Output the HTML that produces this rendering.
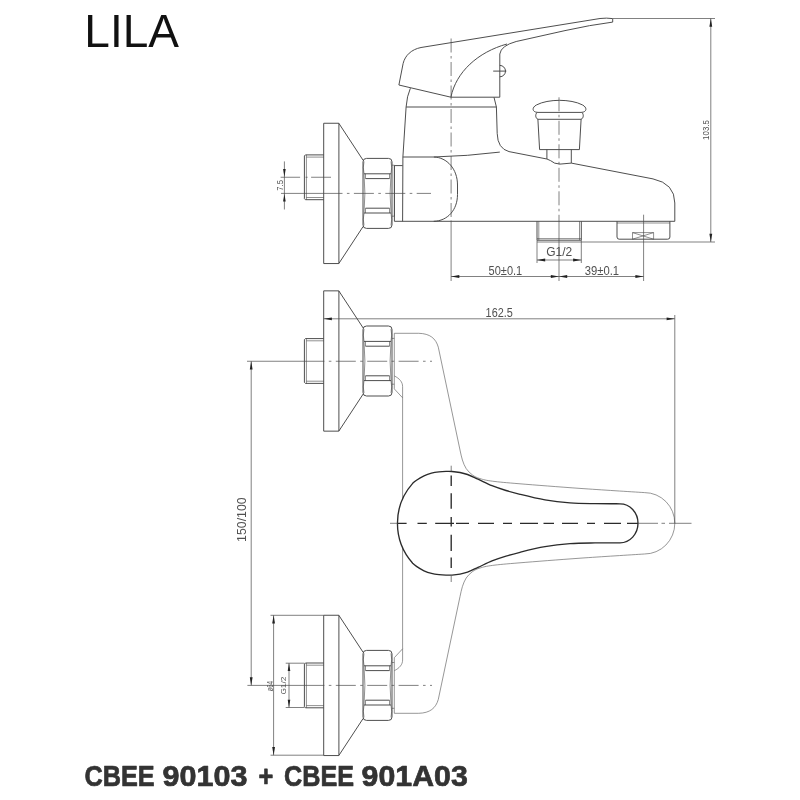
<!DOCTYPE html>
<html lang="en">
<head>
<meta charset="utf-8">
<title>LILA CBEE 90103 + CBEE 901A03</title>
<style>
html,body{margin:0;padding:0;background:#fff;}
body{width:800px;height:800px;overflow:hidden;position:relative;font-family:"Liberation Sans",sans-serif;}
svg{position:absolute;left:0;top:0;display:block;will-change:transform;}
.m{fill:none;stroke:#444;stroke-width:.95;stroke-linejoin:round;stroke-linecap:butt;}
.m .t{stroke-width:.6;}
.n{fill:none;stroke:#666;stroke-width:.68;}
.d{fill:none;stroke:#4a4a4a;stroke-width:.7;}
.h{fill:none;stroke:#2b2b2b;stroke-width:1.35;stroke-linecap:butt;}
.a{fill:#222;stroke:none;}
.x{font-family:"Liberation Sans",sans-serif;fill:#505050;stroke:none;}
.ttl{font-family:"Liberation Sans",sans-serif;fill:#111;}
.code{font-family:"Liberation Sans",sans-serif;font-weight:bold;fill:#333;stroke:#333;stroke-width:.7;stroke-linejoin:round;}
</style>
</head>
<body>
<svg width="800" height="800" viewBox="0 0 800 800">
<rect x="0" y="0" width="800" height="800" fill="#fff"/>

<text class="ttl" x="84.3" y="47.3" font-size="46.6" textLength="94.7" lengthAdjust="spacingAndGlyphs">LILA</text>
<text class="code" font-size="29" y="785.5"><tspan x="84.4" textLength="70.2" lengthAdjust="spacingAndGlyphs">CBEE</tspan> <tspan x="162.4" textLength="85" lengthAdjust="spacingAndGlyphs">90103</tspan> <tspan x="258.4" textLength="14.8" lengthAdjust="spacingAndGlyphs">+</tspan> <tspan x="284" textLength="70" lengthAdjust="spacingAndGlyphs">CBEE</tspan> <tspan x="361.6" textLength="106.2" lengthAdjust="spacingAndGlyphs">901A03</tspan></text>
<g class="m">
<rect x="323.7" y="123.25" width="15.2" height="140.3"/>
<path d="M338.9,123.40 L363.2,160.40 M338.9,263.40 L363.2,226.40"/>
<rect x="363" y="158.40" width="29" height="70" rx="3.5" ry="3.5"/>
<path d="M364,173.80 H391"/>
<path d="M364,213.00 H391"/>
<path d="M365.5,178.60 H389.5"/>
<path d="M365.5,208.20 H389.5"/>
<path class="t" d="M364,161.40 Q362.6,167.40 364,173.80 Q365.8,193.40 364,213.00 Q362.6,219.40 364,225.40"/>
<path class="t" d="M391,161.40 Q392.4,167.40 391,173.80 Q389.2,193.40 391,213.00 Q392.4,219.40 391,225.40"/>
<path class="t" d="M365.5,173.80 V178.60 M389.5,173.80 V178.60 M365.5,208.20 V213.00 M389.5,208.20 V213.00"/>
<path d="M323.7,154.90 H305.4 L304.4,155.90 V198.70 L305.4,199.70 H323.7"/>
<path class="t" d="M306.4,154.90 V199.70 M306.4,157.10 H323.7 M306.4,197.50 H323.7"/>
<path class="t" d="M392,165.2 H394.4 V216.2 H392"/>
<path d="M394.4,165.6 H402.6 M394.4,165.6 V221.3"/>
<path d="M394.4,221.3 H674.8"/>
<path d="M402.6,221.3 L402.9,157 L406.1,107 Q406.9,96 410.4,88.2"/>
<path d="M402.9,157 H433.7 C447,157.3 457.5,169 457.5,185 V194.5 C457.5,210 447.5,221 433.7,221.3"/>
<path d="M433.7,157 Q468,156.1 499.8,152.1"/>
<path d="M406.1,107 H496.4"/>
<path d="M494,97.3 L496.4,107 L497.2,133.5 Q497.6,148.6 509,151.6 L546.9,159 L550.5,160.6 Q554,163.9 560,164.1 L571.3,163.1 L653,178.9 Q674.8,183.5 674.8,203 V221.3"/>
<path d="M398.9,85 L403.1,63.6 C405,55.4 411.5,49.4 421,47.5 L600,18.5 Q606.5,17.7 612.7,18.6 V22.1 Q590,25 565,30.6 L516.2,41.5 Q501,45.6 499.8,54 V97.2 H450.9 L398.9,85"/>
<path d="M450.9,97.2 C456,72 478,52 507,44"/>
<path d="M499.8,65.4 A5.7,5.7 0 0 1 499.8,76.8 M493.2,71.1 H506.3"/>
<path d="M537.5,112.4 C532,112 531.6,107.4 536.6,104.9 C548,98.8 571,98.8 582.4,104.9 C587.4,107.4 587,112 581.5,112.4"/>
<path d="M537.5,112.4 H581.5 M537.5,112.4 C535.1,113.4 535.1,118.2 537.9,119.3 H581.1 C583.9,118.2 583.9,113.4 581.5,112.4"/>
<path d="M537.9,119.3 L539.6,149.6 H579.4 L581.1,119.3"/>
<path d="M546.9,149.6 V159 M571.3,149.6 V163.1"/>
<path d="M537,221.3 V240.2 H581.3 V221.3"/>
<path class="t" d="M538.8,221.3 V240.2 M579.5,221.3 V240.2 M537,238.6 H581.3"/>
<path d="M617,221.3 V237 Q617,239.2 619.2,239.2 H667.7 Q669.9,239.2 669.9,237 V221.3"/>
<path class="t" d="M632.5,239.2 V232.6 H653.6 V239.2 M632.5,232.6 L653.6,239.2 M632.5,239.2 L653.6,232.6 M617,223 H669.9"/>
</g>
<g class="d">
<path d="M281,193.4 H431" stroke-dasharray="61.5 4.4 2.6 4.4 20 4.4 2.6 4.4 20 4.4 2.6 4.4 20"/>
<path d="M280.6,177.25 H331" stroke-dasharray="19.5 5.5 2 3.5 20"/>
<path d="M451.1,38.5 V221.3" stroke-dasharray="14 3.5 2.5 3.5"/>
<path d="M451.1,221.3 V281"/>
<path d="M559,97.3 V221.3" stroke-dasharray="14 3.5 2.5 3.5"/>
<path d="M559,221.3 V281"/>
<path d="M643.6,214.7 V281"/>
<path d="M451.1,276.5 H643.6"/>
<path d="M537,240.2 V263 M581.3,240.2 V263 M537,260 H581.3"/>
<path d="M537,242 H715 M612.9,18.5 H715 M710.8,18.5 V242"/>
<path d="M284.4,161.4 V209.5"/>
</g>
<g class="a">
<polygon points="451.10,276.50 459.30,275.10 459.30,277.90"/>
<polygon points="559.00,276.50 550.80,275.10 550.80,277.90"/>
<polygon points="559.00,276.50 567.20,275.10 567.20,277.90"/>
<polygon points="643.60,276.50 635.40,275.10 635.40,277.90"/>
<polygon points="537.00,260.00 545.20,258.60 545.20,261.40"/>
<polygon points="581.30,260.00 573.10,258.60 573.10,261.40"/>
<polygon points="710.80,18.50 709.40,26.70 712.20,26.70"/>
<polygon points="710.80,242.00 709.40,233.80 712.20,233.80"/>
<polygon points="284.40,176.90 283.10,169.10 285.70,169.10"/>
<polygon points="284.40,193.80 283.10,201.60 285.70,201.60"/>
</g>
<g class="x">
<text x="488.6" y="274.6" font-size="12" textLength="33.6" lengthAdjust="spacingAndGlyphs">50±0.1</text>
<text x="584.8" y="274.6" font-size="12" textLength="34.3" lengthAdjust="spacingAndGlyphs">39±0.1</text>
<text x="546.2" y="256.1" font-size="12" textLength="26" lengthAdjust="spacingAndGlyphs">G1/2</text>
<text x="485.6" y="317.2" font-size="12" textLength="27.2" lengthAdjust="spacingAndGlyphs">162.5</text>
<text transform="translate(709.3,139.9) rotate(-90)" font-size="8.8" textLength="19.8" lengthAdjust="spacingAndGlyphs">103.5</text>
<text transform="translate(283,190.7) rotate(-90)" font-size="9.6" textLength="10.6" lengthAdjust="spacingAndGlyphs">7.5</text>
<text transform="translate(246,541.9) rotate(-90)" font-size="13.4" textLength="44.6" lengthAdjust="spacingAndGlyphs">150/100</text>
<text transform="translate(272.6,691.6) rotate(-90)" font-size="8.6" textLength="10.6" lengthAdjust="spacingAndGlyphs">ø64</text>
<text transform="translate(285.9,694.6) rotate(-90)" font-size="7.8" textLength="18" lengthAdjust="spacingAndGlyphs">G1/2</text>
</g>
<g class="m">
<rect x="323.7" y="290.85" width="15.2" height="140.3"/>
<path d="M338.9,291.00 L363.2,328.00 M338.9,431.00 L363.2,394.00"/>
<rect x="363" y="326.00" width="29" height="70" rx="3.5" ry="3.5"/>
<path d="M364,341.40 H391"/>
<path d="M364,380.60 H391"/>
<path d="M365.5,346.20 H389.5"/>
<path d="M365.5,375.80 H389.5"/>
<path class="t" d="M364,329.00 Q362.6,335.00 364,341.40 Q365.8,361.00 364,380.60 Q362.6,387.00 364,393.00"/>
<path class="t" d="M391,329.00 Q392.4,335.00 391,341.40 Q389.2,361.00 391,380.60 Q392.4,387.00 391,393.00"/>
<path class="t" d="M365.5,341.40 V346.20 M389.5,341.40 V346.20 M365.5,375.80 V380.60 M389.5,375.80 V380.60"/>
<path d="M323.7,338.60 H305.4 L304.4,339.60 V382.40 L305.4,383.40 H323.7"/>
<path class="t" d="M306.4,338.60 V383.40 M306.4,340.80 H323.7 M306.4,381.20 H323.7"/>
<rect x="323.7" y="615.25" width="15.2" height="140.3"/>
<path d="M338.9,615.40 L363.2,652.40 M338.9,755.40 L363.2,718.40"/>
<rect x="363" y="650.40" width="29" height="70" rx="3.5" ry="3.5"/>
<path d="M364,665.80 H391"/>
<path d="M364,705.00 H391"/>
<path d="M365.5,670.60 H389.5"/>
<path d="M365.5,700.20 H389.5"/>
<path class="t" d="M364,653.40 Q362.6,659.40 364,665.80 Q365.8,685.40 364,705.00 Q362.6,711.40 364,717.40"/>
<path class="t" d="M391,653.40 Q392.4,659.40 391,665.80 Q389.2,685.40 391,705.00 Q392.4,711.40 391,717.40"/>
<path class="t" d="M365.5,665.80 V670.60 M389.5,665.80 V670.60 M365.5,700.20 V705.00 M389.5,700.20 V705.00"/>
<path d="M323.7,663.00 H305.4 L304.4,664.00 V706.80 L305.4,707.80 H323.7"/>
<path class="t" d="M306.4,663.00 V707.80 M306.4,665.20 H323.7 M306.4,705.60 H323.7"/>
<path class="t" d="M392,338.4 H394.3 M392,384.2 H394.3 M392,662.5 H394.3 M392,708.3 H394.3"/>
</g>
<g class="n">
<path d="M394.3,388.9 V333.3 H418.7 C430,333.6 435.8,338.4 438.3,347.2 L460,450 C460.75,453.33 461.37,456.90 462.40,460.00 C463.43,463.10 464.52,466.10 466.20,468.60 C467.88,471.10 470.20,473.33 472.50,475.00 C474.80,476.67 476.67,477.57 480.00,478.60 C483.33,479.63 485.83,480.33 492.50,481.20 C499.17,482.07 505.42,482.60 520.00,483.80 C534.58,485.00 559.25,486.93 580.00,488.40 C600.75,489.87 631.17,491.77 644.50,492.60 A30.3,30.7 0 0 1 674.8,523.3 M394.3,375.9 C399.5,378.5 402.6,382 402.6,386.6 V499.3 M394.3,388.9 L402.6,397.8"/>
<path transform="matrix(1 0 0 -1 0 1046.60)" d="M394.3,388.9 V333.3 H418.7 C430,333.6 435.8,338.4 438.3,347.2 L460,450 C460.75,453.33 461.37,456.90 462.40,460.00 C463.43,463.10 464.52,466.10 466.20,468.60 C467.88,471.10 470.20,473.33 472.50,475.00 C474.80,476.67 476.67,477.57 480.00,478.60 C483.33,479.63 485.83,480.33 492.50,481.20 C499.17,482.07 505.42,482.60 520.00,483.80 C534.58,485.00 559.25,486.93 580.00,488.40 C600.75,489.87 631.17,491.77 644.50,492.60 A30.3,30.7 0 0 1 674.8,523.3 M394.3,375.9 C399.5,378.5 402.6,382 402.6,386.6 V499.3 M394.3,388.9 L402.6,397.8"/>
</g>
<path class="h" d="M620.00,542.80 C612.05,542.82 603.33,542.75 595.00,542.90 C586.67,543.05 578.32,543.07 570.00,543.70 C561.65,544.33 553.29,545.28 545.00,546.70 C536.62,548.14 527.30,550.48 520.00,552.30 C514.81,553.59 510.64,554.68 506.00,556.10 C501.30,557.54 496.61,559.05 492.00,560.90 C487.27,562.80 482.40,565.40 478.00,567.40 C474.31,569.08 470.81,570.94 467.50,572.10 C464.88,573.02 462.55,573.60 460.00,574.10 C457.39,574.61 454.51,574.94 452.00,575.10 C449.89,575.24 448.06,575.21 446.00,575.15 C443.74,575.09 441.36,574.97 439.00,574.70 C436.53,574.42 433.97,574.09 431.50,573.45 C428.97,572.80 426.44,571.93 424.00,570.80 C421.43,569.61 418.58,567.87 416.50,566.40 C415.01,565.35 413.87,564.44 412.68,563.25 A60,60 0 0 1 412.68,483.35 C413.87,482.16 415.01,481.25 416.50,480.20 C418.58,478.73 421.43,476.99 424.00,475.80 C426.44,474.67 428.97,473.80 431.50,473.15 C433.97,472.51 436.53,472.18 439.00,471.90 C441.36,471.63 443.74,471.51 446.00,471.45 C448.06,471.39 449.89,471.36 452.00,471.50 C454.51,471.66 457.39,471.99 460.00,472.50 C462.55,473.00 464.88,473.58 467.50,474.50 C470.81,475.66 474.31,477.52 478.00,479.20 C482.40,481.20 487.27,483.80 492.00,485.70 C496.61,487.55 501.30,489.06 506.00,490.50 C510.64,491.92 514.81,493.01 520.00,494.30 C527.30,496.12 536.62,498.46 545.00,499.90 C553.29,501.32 561.65,502.27 570.00,502.90 C578.32,503.53 586.67,503.55 595.00,503.70 C603.33,503.85 612.05,503.78 620.00,503.80 A18,19.55 0 0 1 638,523.30 A18,19.55 0 0 1 620.00,542.80 Z"/>
<path class="h" stroke-width="1.2" d="M397.5,523.30 H406.6 M417.5,523.30 H426.8 M435.2,523.30 H454.0 M456.0,523.30 H469.0 M478.0,523.30 H494.0 M503.0,523.30 H512.0 M520.0,523.30 H538.0 M543.5,523.30 H554.0 M562.0,523.30 H578.0 M587.0,523.30 H595.0 M604.0,523.30 H621.0 M627.0,523.30 H638.0"/>
<path class="h" stroke-width="1.2" d="M451.2,475.4 V486.0 M451.2,493.3 V508.8 M451.2,516.9 V526.6 M451.2,534.8 V551.0 M451.2,557.5 V568.0"/>
<g class="d">
<path d="M390,523.30 H397.5 M638,523.30 H658 M661.5,523.30 H665 M669,523.30 H691.5"/>
<path d="M451.2,465.7 V471.4 M451.2,576 V582"/>
<path d="M323.7,318.8 H674.8 M674.8,315 V523.3"/>
<path d="M247,361.25 H304.4 M247.4,685.4 H304.4 M251.2,361.25 V685.4"/>
<path d="M304.4,361.25 H432" stroke-dasharray="20 4.4 2.6 4.4"/>
<path d="M304.4,685.4 H432" stroke-dasharray="20 4.4 2.6 4.4"/>
<path d="M270.5,615.3 H323.7 M270.5,755.2 H323.7 M273.6,615.3 V755.2"/>
<path d="M285.7,663.2 H304.4 M285.7,707.5 H304.4 M289,663.2 V707.5"/>
</g>
<g class="a">
<polygon points="323.70,318.80 331.90,317.40 331.90,320.20"/>
<polygon points="674.80,318.80 666.60,317.40 666.60,320.20"/>
<polygon points="251.20,361.25 249.80,369.45 252.60,369.45"/>
<polygon points="251.20,685.40 249.80,677.20 252.60,677.20"/>
<polygon points="273.60,615.30 272.20,623.50 275.00,623.50"/>
<polygon points="273.60,755.20 272.20,747.00 275.00,747.00"/>
<polygon points="289.00,663.20 287.70,671.00 290.30,671.00"/>
<polygon points="289.00,707.50 287.70,699.70 290.30,699.70"/>
</g>
</svg>
</body>
</html>
